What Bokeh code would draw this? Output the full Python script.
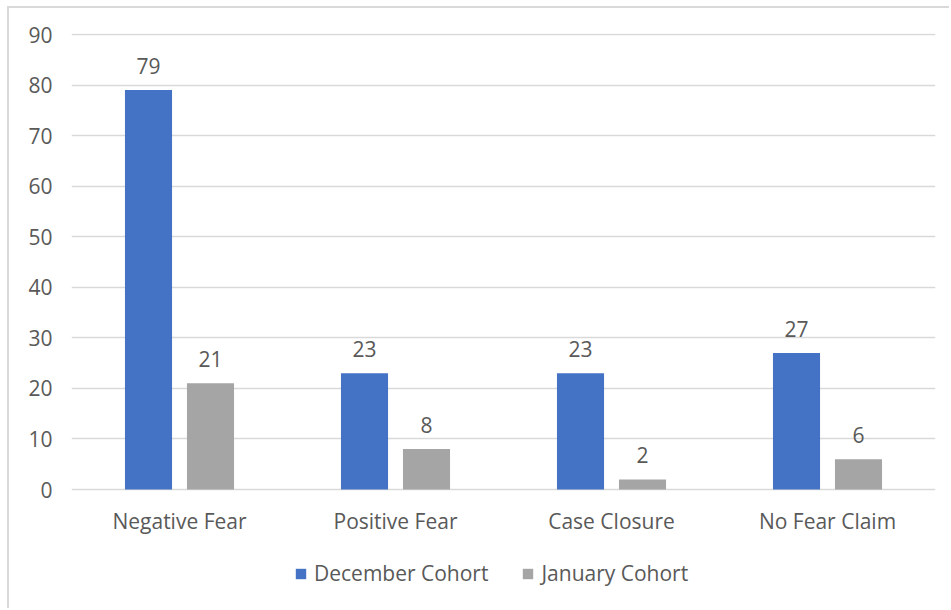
from bokeh.plotting import figure
from bokeh.models import ColumnDataSource, FixedTicker, Legend, LegendItem, Range1d
from bokeh.transform import dodge
from bokeh.core.properties import value
from bokeh.embed import file_html
from bokeh.resources import INLINE

categories = ["Negative Fear", "Positive Fear", "Case Closure", "No Fear Claim"]
december = [79, 23, 23, 27]
january = [21, 8, 2, 6]
y_ticks = [0, 10, 20, 30, 40, 50, 60, 70, 80, 90]

FONT = "Open Sans"
FS = "21px"
TXT = "#595959"
BLUE = "#4472C4"
GRAY = "#A5A5A5"

src = ColumnDataSource(dict(cat=categories, dec=december, jan=january, zero=[0] * len(categories),
                            dec_t=[str(v) for v in december], jan_t=[str(v) for v in january]))

# frame spans page y 33..610; 0 sits at y=489, 90 at y=34
p = figure(x_range=categories, y_range=Range1d(-23.93, 90.2), width=942, height=602,
           output_backend="svg", toolbar_location=None,
           min_border_left=62, min_border_right=16, min_border_top=25, min_border_bottom=0)
p.margin = (6, 0, 0, 7)
p.styles = {"border-left": "2px solid #d9d9d9", "border-top": "2px solid #d9d9d9"}
p.outline_line_color = None
p.xgrid.grid_line_color = None
p.ygrid.grid_line_color = "#d9d9d9"
p.ygrid.grid_line_width = 1.5
p.yaxis.ticker = FixedTicker(ticks=y_ticks)
p.xaxis.visible = False

ax = p.yaxis
ax.axis_line_color = None
ax.major_tick_line_color = None
ax.minor_tick_line_color = None
ax.major_label_text_font = FONT
ax.major_label_text_font_size = FS
ax.major_label_text_color = TXT
ax.major_label_standoff = 13

W = 0.218
OFF = 0.1435
r1 = p.vbar(x=dodge("cat", -OFF, range=p.x_range), top="dec", width=W, source=src,
            fill_color=BLUE, line_color=None)
r2 = p.vbar(x=dodge("cat", OFF, range=p.x_range), top="jan", width=W, source=src,
            fill_color=GRAY, line_color=None)

for col, txt, off in (("dec", "dec_t", -OFF), ("jan", "jan_t", OFF)):
    p.text(x=dodge("cat", off, range=p.x_range), y=col, text=txt, source=src,
           text_align="center", text_baseline="middle", y_offset=-24,
           text_font=value(FONT), text_font_size=FS, text_color=TXT)

# category labels under the baseline
p.text(x="cat", y="zero", text="cat", source=src, text_align="center", text_baseline="middle",
       y_offset=31, text_font=value(FONT), text_font_size=FS, text_color=TXT)

legend = Legend(items=[LegendItem(label="December Cohort", renderers=[r1]),
                       LegendItem(label="January Cohort", renderers=[r2])],
                orientation="horizontal", location=(223, 23),
                label_text_font=FONT, label_text_font_size=FS, label_text_color=TXT,
                glyph_width=13, glyph_height=13, label_standoff=7, spacing=33,
                border_line_color=None, background_fill_alpha=0, margin=0, padding=10)
p.add_layout(legend, "center")

open("out.html", "w").write(file_html(p, INLINE))
